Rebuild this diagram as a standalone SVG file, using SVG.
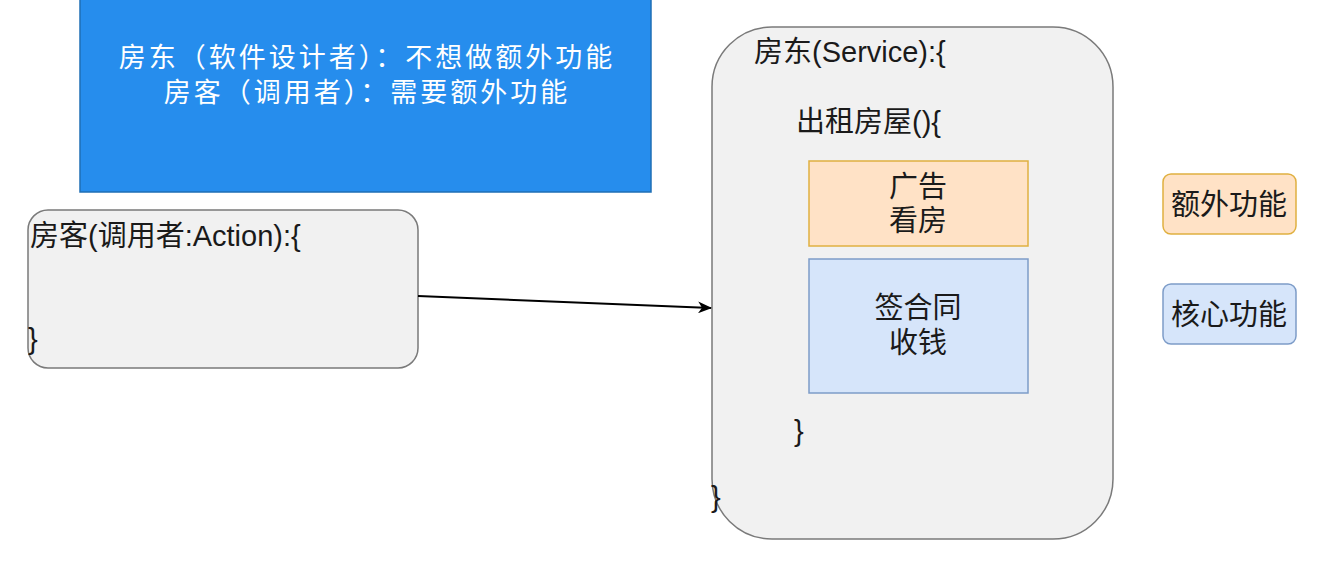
<svg xmlns="http://www.w3.org/2000/svg" width="1338" height="567" viewBox="0 0 1338 567">
<style>
.t{font-family:"Liberation Sans","Noto Sans CJK SC",sans-serif;font-size:29px;fill:#1a1a1a}
.w{fill:#ffffff;font-size:27px;letter-spacing:3px}
.c{text-anchor:middle}
.gray{fill:#f1f1f1;stroke:#7a7a7a;stroke-width:1.5}
.orange{fill:#ffe2c6;stroke:#e0b040;stroke-width:1.5}
.blue{fill:#d6e5fa;stroke:#7d9cc8;stroke-width:1.5}
</style>
<defs>
<marker id="arr" viewBox="0 0 14 12" refX="13" refY="6" markerWidth="14" markerHeight="12" markerUnits="userSpaceOnUse" orient="auto">
<path d="M0,0 L14,6 L0,12 L4,6 Z" fill="#000"/>
</marker>
</defs>
<rect width="1338" height="567" fill="#ffffff"/>
<g id="note">
<rect x="80" y="-5" width="571" height="197" fill="#268ded" stroke="#1f6fb5" stroke-width="1.5"/>
<text class="t w c" x="367" y="67">房东（软件设计者）：不想做额外功能</text>
<text class="t w c" x="367" y="102">房客（调用者）：需要额外功能</text>
</g>
<g id="caller">
<rect class="gray" x="28" y="210" width="390" height="158" rx="20"/>
<text class="t" x="30" y="246">房客(调用者:Action):{</text>
<text class="t" x="28" y="349">}</text>
</g>
<g id="service">
<rect class="gray" x="712" y="27" width="401" height="512" rx="60"/>
<text class="t" x="754" y="62">房东(Service):{</text>
<text class="t" x="796" y="132">出租房屋(){</text>
<text class="t" x="794" y="441">}</text>
<text class="t" x="711" y="507">}</text>
</g>
<g id="extra">
<rect class="orange" x="809" y="161" width="219" height="85"/>
<text class="t c" x="918" y="197">广告</text>
<text class="t c" x="918" y="231">看房</text>
</g>
<g id="core">
<rect class="blue" x="809" y="259" width="219" height="134"/>
<text class="t c" x="918" y="318">签合同</text>
<text class="t c" x="918" y="353">收钱</text>
</g>
<g id="legend-extra">
<rect class="orange" x="1163" y="174" width="133" height="60" rx="8"/>
<text class="t c" x="1229" y="215">额外功能</text>
</g>
<g id="legend-core">
<rect class="blue" x="1163" y="284" width="133" height="60" rx="8"/>
<text class="t c" x="1229" y="325">核心功能</text>
</g>
<g id="connectors">
<line x1="418" y1="296" x2="711" y2="308" stroke="#000" stroke-width="2" marker-end="url(#arr)"/>
</g>
</svg>
